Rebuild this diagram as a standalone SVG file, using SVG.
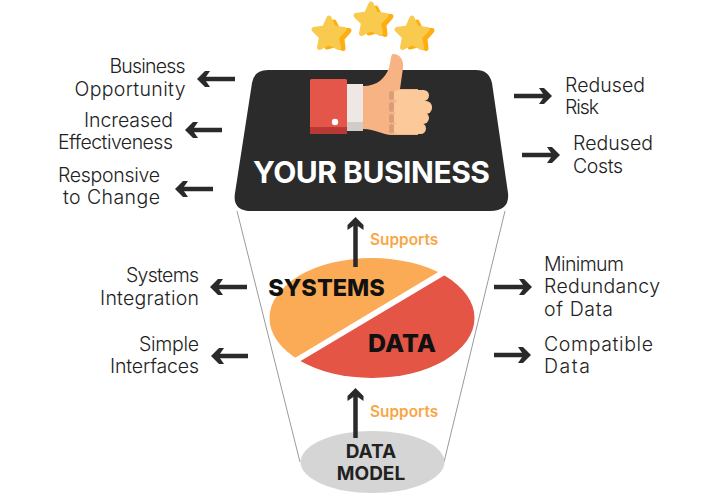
<svg xmlns="http://www.w3.org/2000/svg" width="720" height="493" viewBox="0 0 720 493">
<style>
.lb{font-family:Inter,"Liberation Sans",sans-serif;font-weight:300;font-size:19.5px;fill:#222}
.e{text-anchor:end}
.bd{font-family:Inter,"Liberation Sans",sans-serif;font-weight:800;fill:#111;text-anchor:middle}
.md{font-family:Inter,"Liberation Sans",sans-serif;font-weight:700;font-size:19px;fill:#222;text-anchor:middle}
.sp{font-family:Inter,"Liberation Sans",sans-serif;font-weight:600;font-size:15.400px;fill:#f9a646}
.ar{stroke:#2a2a2a;stroke-width:4.5;fill:none;marker-end:url(#head)}
.fn{stroke:#9a9a9a;stroke-width:1;fill:none}
.st{fill:#f8cb4f;stroke:#f8cb4f;stroke-width:5;stroke-linejoin:round}
.sb{fill:#ffae0f;stroke:#ffae0f;stroke-width:5;stroke-linejoin:round}
.fg{fill:#fcc99a}
.kn{fill:#d99d78}
</style>
<defs>
<marker id="head" markerUnits="userSpaceOnUse" markerWidth="16" markerHeight="18" refX="11" refY="8.5" orient="auto">
<path d="M1 0.5L6 0.5L14 8.5L6 16.5L1 16.5L6.500 8.500Z" fill="#2a2a2a"/>
</marker>
<g id="star">
<path class="sb" d="M4 -11L8 -3L19 -2.500L12 5.500L13 15.500L4 12L-3 14L-3 -8Z"/>
<path class="st" d="M-1 -15L3.500 -5L14 -3.500L6.500 4L8.500 14.500L-1 9.500L-10.500 14.500L-8.500 4L-16 -3.500L-5.500 -5Z"/>
</g>
<clipPath id="upper"><path d="M200 415L500 235L200 200Z"/></clipPath>
<clipPath id="lower"><path d="M200 421L500 242.200L520 420Z"/></clipPath>
</defs>
<rect width="720" height="493" fill="#fff"/>
<g id="funnel">
<path class="fn" d="M237 211L300 462"/>
<path class="fn" d="M505 211L444 462"/>
</g>
<g id="your-business">
<path d="M268 70L476 70Q489 70 492 83L508 193Q510 211 490 211L252 211Q232 211 235 193L252 83Q254 70 268 70Z" fill="#2b2b2b"/>
<use href="#star" x="330" y="33"/>
<use href="#star" x="372" y="19"/>
<use href="#star" x="413" y="33"/>
<path d="M363 86C378 86 385 78 389 68C391 60 391 54 393 54C400 54 404 60 403 68L400 89L418 89L418 135L392 135C382 135 376 129 363 129Z" fill="#f8b384"/>
<rect x="393" y="90" width="36" height="11" rx="5.500" class="fg"/>
<rect x="393" y="101" width="39" height="13" rx="6" class="fg"/>
<rect x="393" y="112" width="36" height="12" rx="6" class="fg"/>
<rect x="393" y="123" width="33" height="11" rx="5.500" class="fg"/>
<rect x="389" y="91" width="5" height="9" rx="2.500" class="kn"/>
<rect x="389" y="102" width="5" height="10" rx="2.500" class="kn"/>
<rect x="389" y="114" width="5" height="9" rx="2.500" class="kn"/>
<rect x="389" y="124" width="5" height="9" rx="2.500" class="kn"/>
<rect x="347" y="84" width="16" height="47" fill="#efe7e3"/>
<rect x="347" y="122" width="16" height="9" fill="#d2ccc8"/>
<rect x="310" y="79" width="37" height="55" rx="1.500" fill="#e5564a"/>
<path d="M310 127H347V134H310Z" fill="#b93a35"/>
<circle cx="335" cy="122" r="3.200" fill="#fff"/>
<text x="371.500" y="183" font-size="30" text-anchor="middle" textLength="237" font-family="Inter, 'Liberation Sans', sans-serif" font-weight="700" fill="#fff">YOUR BUSINESS</text>
</g>
<g id="systems">
<ellipse cx="372" cy="318" rx="102.500" ry="60" fill="#fbab55" clip-path="url(#upper)"/>
<text class="bd" x="326.500" y="296" font-size="23.500">SYSTEMS</text>
</g>
<g id="data">
<ellipse cx="372" cy="318" rx="102.500" ry="60" fill="#e45545" clip-path="url(#lower)"/>
<text class="bd" x="402" y="352" font-size="25">DATA</text>
</g>
<g id="data-model">
<ellipse cx="372.500" cy="462" rx="72" ry="31" fill="#d5d5d5"/>
<text class="md" x="371" y="458">DATA</text>
<text class="md" x="371" y="480">MODEL</text>
</g>
<g id="connectors">
<path class="ar" d="M235 79H200"/>
<path class="ar" d="M222 130H188"/>
<path class="ar" d="M213 189H178"/>
<path class="ar" d="M247 287H213"/>
<path class="ar" d="M248 356H214"/>
<path class="ar" d="M514 96H549"/>
<path class="ar" d="M522 155H557"/>
<path class="ar" d="M494 287H529"/>
<path class="ar" d="M494 355H528"/>
<path class="ar" d="M355.500 267V220"/>
<path class="ar" d="M355.500 438V391"/>
</g>
<g id="labels">
<text class="sp" x="370" y="245">Supports</text>
<text class="sp" x="370" y="417">Supports</text>
<text class="lb e" x="185.500" y="73" textLength="76">Business</text>
<text class="lb e" x="185.500" y="96" textLength="111">Opportunity</text>
<text class="lb e" x="173" y="127" textLength="89">Increased</text>
<text class="lb e" x="173" y="149" textLength="115">Effectiveness</text>
<text class="lb e" x="160" y="182" textLength="102">Responsive</text>
<text class="lb e" x="160" y="204" textLength="97">to Change</text>
<text class="lb e" x="199" y="282" textLength="73">Systems</text>
<text class="lb e" x="199" y="305" textLength="99">Integration</text>
<text class="lb e" x="199" y="351" textLength="60">Simple</text>
<text class="lb e" x="199" y="373" textLength="89">Interfaces</text>
<text class="lb" x="565" y="92" textLength="80">Redused</text>
<text class="lb" x="565" y="114" textLength="34">Risk</text>
<text class="lb" x="573" y="150" textLength="80">Redused</text>
<text class="lb" x="573" y="173" textLength="50">Costs</text>
<text class="lb" x="544" y="271" textLength="80">Minimum</text>
<text class="lb" x="544" y="293" textLength="116">Redundancy</text>
<text class="lb" x="544" y="316" textLength="69">of Data</text>
<text class="lb" x="544" y="351" textLength="109">Compatible</text>
<text class="lb" x="544" y="373" textLength="46">Data</text>
</g>
</svg>
